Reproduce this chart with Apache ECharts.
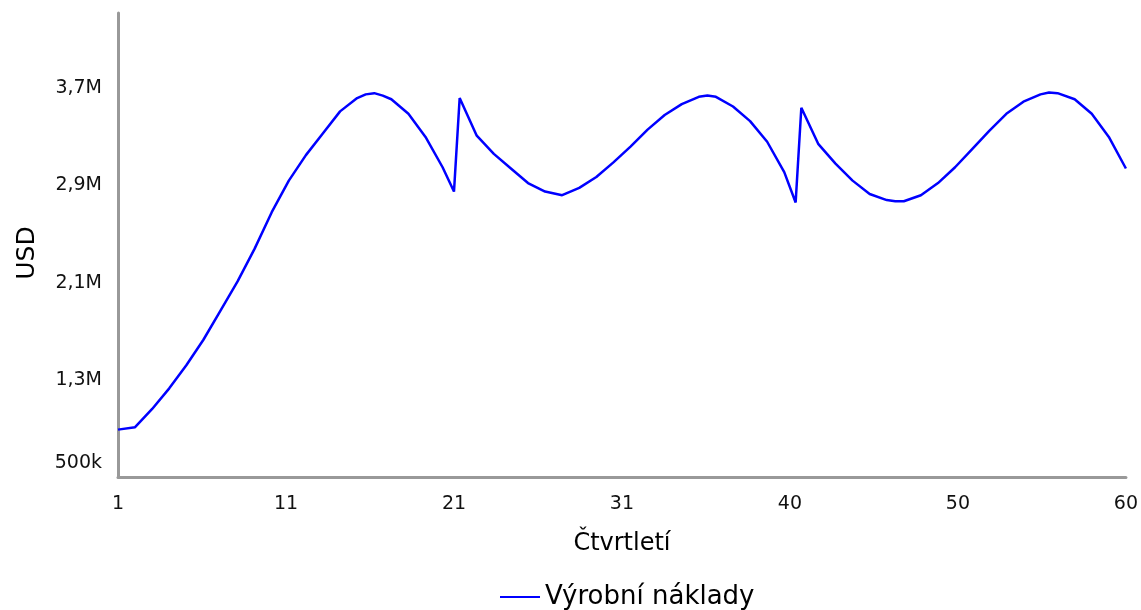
<!DOCTYPE html>
<html>
<head>
<meta charset="utf-8">
<script src="https://cdn.jsdelivr.net/npm/echarts@6/dist/echarts.min.js"></script>
<style>
html,body{margin:0;padding:0;background:#fff;}
#chart{width:1141px;height:610px;}
</style>
</head>
<body>
<div id="chart"></div>
<script>
// Quarter positions (monthly sub-steps around the jumps and extrema)
const quarters = [1,2,3,4,5,6,7,8,9,10,11,12,13,14,15,15.5,16,16.5,17,18,19,20,20.667,21,22,23,24,25,26,27,28,29,30,31,32,33,34,35,35.5,36,37,38,39,40,40.667,41,42,43,44,45,46,46.5,47,48,49,50,51,52,53,54,55,55.5,56,57,58,59,60];
// Production costs in USD
const costs = [890000,910000,1060000,1230000,1420000,1630000,1870000,2110000,2380000,2680000,
  2940000,3150000,3330000,3510000,3620000,3650000,3660000,3640000,3610000,3490000,3300000,3050000,
  2850000,3620000,3310000,3160000,3040000,2920000,2850000,2820000,2880000,2970000,
  3090000,3220000,3360000,3480000,3570000,3630000,3640000,3630000,3550000,3430000,3260000,
  3010000,2760000,3540000,3240000,3080000,2940000,2830000,2780000,2770000,2770000,2820000,
  2920000,3050000,3200000,3350000,3490000,3590000,3650000,3665000,3660000,3610000,3490000,
  3300000,3040000];
const seriesName = 'Výrobní náklady';
const xAxisTitle = 'Čtvrtletí';
const yAxisTitle = 'USD';
const yTickValues = [500000,1300000,2100000,2900000,3700000];
const yTickLabels = ['500k','1,3M','2,1M','2,9M','3,7M'];
const xMin = 1, xMax = 60, xSteps = 6;
const yMin = 500000, yMax = 4320000, yStep = 800000;

const data = quarters.map((q,i)=>[q,costs[i]]);
const FONT = 'DejaVu Sans';

const chart = echarts.init(document.getElementById('chart'), null, {renderer:'canvas'});
chart.setOption({
  animation:false,
  backgroundColor:'#fff',
  grid:{left:118,right:12,top:13,bottom:133,containLabel:false},
  xAxis:{
    type:'value', min:xMin, max:xMax, interval:(xMax-xMin)/xSteps,
    name:xAxisTitle, nameLocation:'middle', nameGap:55,
    nameTextStyle:{fontFamily:FONT,fontSize:24,color:'#000'},
    axisLine:{show:true,lineStyle:{color:'#999',width:3}},
    axisTick:{show:false}, splitLine:{show:false},
    axisLabel:{margin:18,fontFamily:FONT,fontSize:19,color:'#111',
      formatter:v=>String(Math.round(v))}
  },
  yAxis:{
    type:'value', min:yMin, max:yMax, interval:yStep,
    name:yAxisTitle, nameLocation:'middle', nameGap:78, nameRotate:90,
    nameTextStyle:{fontFamily:FONT,fontSize:25,color:'#000',padding:[0,16,0,0]},
    axisLine:{show:true,lineStyle:{color:'#999',width:3}},
    axisTick:{show:false}, splitLine:{show:false},
    axisLabel:{margin:16,fontFamily:FONT,fontSize:19,color:'#111',
      formatter:v=>{
        const i = yTickValues.findIndex(t=>Math.abs(t-v)<1);
        if(i<0) return '';
        return i===0 ? '{lo|'+yTickLabels[i]+'}' : yTickLabels[i];
      },
      rich:{lo:{fontFamily:FONT,fontSize:19,color:'#111',padding:[0,0,28,0]}}
    }
  },
  legend:{
    data:[{name:seriesName,icon:'rect'}], top:579, left:495,
    itemWidth:40, itemHeight:2, itemGap:10,
    textStyle:{fontFamily:FONT,fontSize:26,color:'#000'}
  },
  series:[{
    name:seriesName, type:'line', data:data, symbol:'none',
    lineStyle:{color:'#0000ff',width:2.5}, itemStyle:{color:'#0000ff'}
  }]
});
</script>
</body>
</html>
